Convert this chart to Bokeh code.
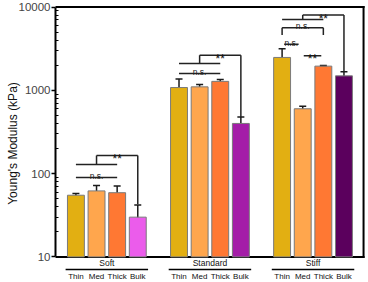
from bokeh.plotting import figure
from bokeh.models import (Range1d, LogAxis, FixedTicker, PrintfTickFormatter,
                          ColumnDataSource, Whisker, TeeHead)
from bokeh.core.properties import value
from bokeh.embed import file_html
from bokeh.resources import INLINE

# ---------------- data ----------------
groups = ["Soft", "Standard", "Stiff"]
thickness = ["Thin", "Med", "Thick", "Bulk"]
soft_mean = [55, 62, 59, 30]
soft_sd = [2.5, 10, 12, 12]
standard_mean = [1080, 1100, 1280, 400]
standard_sd = [290, 70, 70, 78]
stiff_mean = [2480, 600, 1950, 1490]
stiff_sd = [680, 43, 30, 185]
thickness_colors = ["#E2AF12", "#FFA64D", "#FF7833"]
bulk_colors = ["#EB5CEB", "#A41DA8", "#5B005D"]
y_ticks = [10, 100, 1000, 10000]
y_title = "Young's Modulus (kPa)"

# significance annotations (x in bar slots, y in kPa)
sig_h = [  # x0, x1, y
    (0, 2, 90), (0, 2, 129), (1, 3, 165),
    (5, 7, 1590), (5, 7, 2100), (6, 8, 2640),
    (10.1, 10.8, 3560), (11.05, 11.9, 2590), (10, 12, 5630), (10, 12, 7100), (11, 13, 8000),
]
sig_v = [  # x, y0, y1
    (1, 129, 165), (3, 165, 43),
    (6, 2100, 2640), (8, 2640, 478),
    (10, 4600, 5630), (12, 4600, 5630), (11, 7100, 8000), (13, 8000, 1680),
]
sig_text = [  # x, y, label
    (1, 90, "n.s."), (2, 165, "**"),
    (6, 1590, "n.s."), (7, 2640, "**"),
    (10.45, 3560, "n.s."), (11.47, 2590, "**"), (11, 5630, "n.s."), (12, 8000, "**"),
]

# ---------------- build ----------------
means = soft_mean + standard_mean + stiff_mean
sds = soft_sd + standard_sd + stiff_sd
xs, colors, labels = [], [], []
for gi, g in enumerate(groups):
    for ti, t in enumerate(thickness):
        xs.append(gi * 5 + ti)
        colors.append(thickness_colors[ti] if ti < 3 else bulk_colors[gi])
        labels.append(t)

src = ColumnDataSource(dict(x=xs, top=means, color=colors,
                            upper=[m + s for m, s in zip(means, sds)],
                            lower=[m - s for m, s in zip(means, sds)]))

FONT = value("Liberation Sans")
W, H, LEFT = 368, 282, 55
ppd = 83.3  # pixels per decade
y_lo = 10 ** (4 - (H - 6.5) / ppd)
y_hi = 10 ** (4 + 2.5 / ppd)
x0, x1 = -0.99, 14.19

def y_at(py):
    return 10 ** (4 - (py - 6.5) / ppd)

p = figure(width=W, height=H, output_backend="svg", toolbar_location=None,
           y_axis_type="log", x_axis_location=None, y_axis_location=None,
           x_range=Range1d(x0, x1), y_range=Range1d(y_lo, y_hi),
           min_border_left=LEFT, min_border_right=0, min_border_top=4, min_border_bottom=0)
p.outline_line_color = None
p.xgrid.visible = False
p.ygrid.visible = False
p.background_fill_color = "white"
p.border_fill_color = "white"

yax = LogAxis(bounds=(10, 10000))
yax.ticker = FixedTicker(ticks=y_ticks,
                         minor_ticks=[v * k for v in [10, 100, 1000] for k in range(2, 10)])
yax.formatter = PrintfTickFormatter(format="%d")
yax.axis_label = y_title
yax.axis_label_text_font = "Liberation Sans"
yax.axis_label_text_font_size = "12px"
yax.axis_label_text_font_style = "normal"
yax.axis_label_text_color = "#111111"
yax.axis_label_standoff = -4
yax.major_label_text_font = "Liberation Sans"
yax.major_label_text_font_size = "11.5px"
yax.major_label_standoff = 1
yax.axis_line_width = 2
yax.major_tick_line_width = 1.5
yax.minor_tick_line_width = 1.2
yax.major_tick_in = 0
yax.major_tick_out = 4
yax.minor_tick_in = 3
yax.minor_tick_out = 0
p.add_layout(yax, "left")

# box borders (top, right, bottom)
x_right = 13.95
p.segment(x0=[x0, x_right, x0], y0=[10000, 10000, 10],
          x1=[x_right, x_right, x_right], y1=[10000, 10, 10],
          line_color="black", line_width=2, line_cap="square")

p.vbar(x="x", top="top", bottom=10, width=0.82, source=src,
       fill_color="color", line_color="#7a7a7a", line_width=1)

w = Whisker(base="x", upper="upper", lower="lower", source=src,
            line_color="#1a1a1a", line_width=1.5,
            upper_head=TeeHead(size=7, line_width=1.5, line_color="#1a1a1a"),
            lower_head=TeeHead(size=7, line_width=1.5, line_color="#1a1a1a"))
p.add_layout(w)

# significance brackets
p.segment(x0=[h[0] for h in sig_h], x1=[h[1] for h in sig_h],
          y0=[h[2] for h in sig_h], y1=[h[2] for h in sig_h],
          line_color="#222222", line_width=1.5)
p.segment(x0=[v[0] for v in sig_v], x1=[v[0] for v in sig_v],
          y0=[v[1] for v in sig_v], y1=[v[2] for v in sig_v],
          line_color="#222222", line_width=1.5)
ns = [t for t in sig_text if t[2] == "n.s."]
st = [t for t in sig_text if t[2] == "**"]
p.text(x=[t[0] for t in ns], y=[t[1] for t in ns], text=[t[2] for t in ns],
       text_font=FONT, text_font_size=value("8.5px"), text_align="center",
       text_baseline="alphabetic", y_offset=-1.5, text_color="#222222")
p.text(x=[t[0] for t in st], y=[t[1] for t in st], text=[t[2] for t in st],
       text_font=FONT, text_font_size=value("12px"), text_align="center",
       text_baseline="alphabetic", y_offset=3.5, text_color="#111111")

# category labels below the axis
p.text(x=xs, y=[y_at(275.5)] * len(xs), text=labels, text_font=FONT,
       text_font_size=value("8px"), text_align="center", text_baseline="middle",
       text_color="#111111")
gx = [gi * 5 + 1.5 for gi in range(len(groups))]
p.text(x=gx, y=[y_at(262.5)] * len(groups), text=groups, text_font=FONT,
       text_font_size=value("8.5px"), text_align="center", text_baseline="middle",
       text_color="#111111")
p.segment(x0=[g - 2 for g in gx], x1=[g + 2 for g in gx],
          y0=[y_at(269)] * 3, y1=[y_at(269)] * 3, line_color="black", line_width=1.5)

open("out.html", "w").write(file_html(p, INLINE))
